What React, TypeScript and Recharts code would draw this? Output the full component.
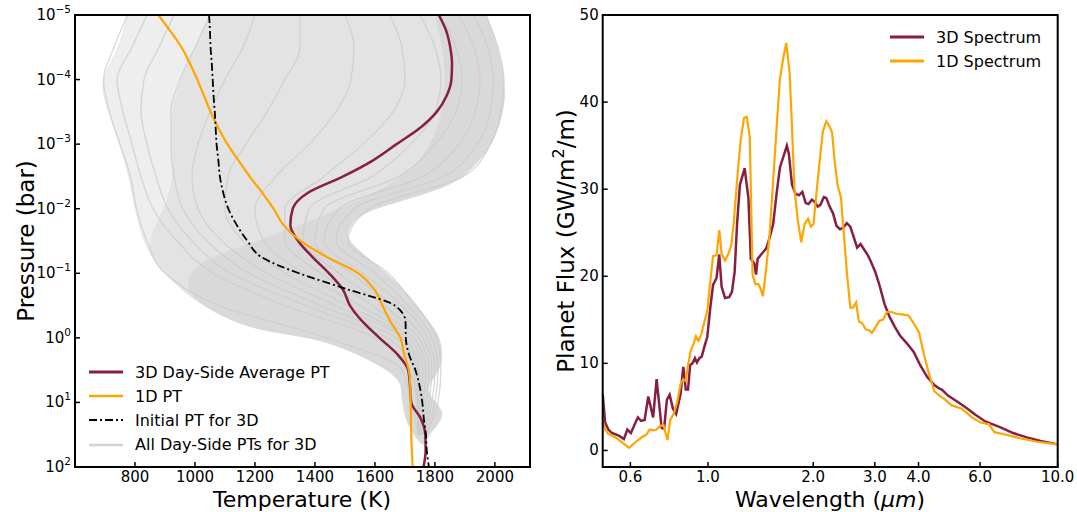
import React from "react";
import { ScatterChart, Scatter, XAxis, YAxis, Legend } from "recharts";

const FONT = "'DejaVu Sans', 'Liberation Sans', sans-serif";
const MAROON = "#861f41";
const ORANGE = "#ffa500";
const GRAY = "#d3d3d3";

// pressure levels (bar), quarter decades
const PRESSURE = [
  1e-5, 1.78e-5, 3.16e-5, 5.62e-5, 1e-4, 1.78e-4, 3.16e-4, 5.62e-4, 1e-3, 1.78e-3,
  3.16e-3, 5.62e-3, 1e-2, 1.78e-2, 3.16e-2, 5.62e-2, 0.1, 0.178, 0.316, 0.562,
  1, 1.78, 3.16, 5.62, 10, 17.8, 31.6, 56.2, 100,
];
const PT_3D_AVG = [
  1813, 1838, 1851, 1857, 1855, 1839, 1806, 1750, 1672, 1594,
  1494, 1378, 1326, 1318, 1344, 1392, 1447, 1493, 1517, 1559,
  1615, 1674, 1711, 1717, 1721, 1753, 1768, 1769, 1762,
];
const PT_1D = [
  878, 918, 955, 983, 1008, 1030, 1052, 1078, 1108, 1145,
  1182, 1224, 1262, 1295, 1352, 1440, 1545, 1598, 1625, 1652,
  1685, 1697, 1713, 1718, 1719, 1720, 1721, 1723, 1726,
];
const PT_INITIAL = [
  1047, 1050, 1052, 1056, 1059, 1062, 1066, 1069, 1072, 1078,
  1083, 1094, 1111, 1139, 1175, 1222, 1347, 1510, 1667, 1702,
  1703, 1713, 1735, 1749, 1758, 1763, 1770, 1773, 1780,
];

// day-side columns, half-decade levels
const P_COLUMNS = [1e-5, 3.16e-5, 1e-4, 3.16e-4, 1e-3, 3.16e-3, 1e-2, 3.16e-2, 0.1, 0.316, 1, 3.16, 10, 31.6];
const COL_H1 = [1970, 2010, 2030, 2020, 1985, 1895, 1580, 1510, 1645, 1735, 1805, 1820, 1810, 1770];
const COL_H2 = [1930, 1975, 1995, 1985, 1940, 1830, 1530, 1470, 1600, 1710, 1790, 1810, 1800, 1765];
const COL_H3 = [1880, 1930, 1950, 1935, 1880, 1760, 1480, 1430, 1560, 1690, 1775, 1800, 1790, 1760];
const COL_H4 = [1820, 1870, 1890, 1870, 1800, 1680, 1430, 1400, 1520, 1660, 1760, 1790, 1780, 1760];
const COL_H5 = [1750, 1800, 1820, 1800, 1720, 1590, 1380, 1360, 1480, 1630, 1745, 1780, 1770, 1755];
const COL_M1 = [1650, 1690, 1700, 1660, 1560, 1430, 1300, 1300, 1420, 1590, 1730, 1770, 1760, 1750];
const COL_M2 = [1500, 1530, 1520, 1470, 1380, 1270, 1200, 1230, 1360, 1550, 1715, 1760, 1755, 1750];
const COL_M3 = [1350, 1350, 1300, 1240, 1170, 1110, 1100, 1160, 1300, 1510, 1700, 1750, 1750, 1745];
const COL_C1 = [1200, 1160, 1100, 1050, 1010, 990, 1010, 1090, 1240, 1470, 1690, 1745, 1748, 1745];
const COL_C2 = [1050, 1000, 950, 920, 920, 930, 960, 1040, 1180, 1420, 1670, 1740, 1745, 1745];
const COL_C3 = [930, 880, 830, 820, 840, 870, 910, 990, 1120, 1370, 1640, 1730, 1742, 1745];
const COL_C4 = [840, 790, 740, 760, 790, 820, 860, 940, 1060, 1300, 1600, 1715, 1740, 1745];
const COL_C5 = [775, 730, 695, 715, 750, 785, 805, 840, 900, 1080, 1440, 1690, 1720, 1745];
const COLUMNS = [COL_H1, COL_H2, COL_H3, COL_H4, COL_H5, COL_M1, COL_M2, COL_M3, COL_C1, COL_C2, COL_C3, COL_C4, COL_C5];

// outline of the whole bundle of day-side profiles (top corners repeated to keep them sharp)
const ENV_T = [
  775, 775, 775, 749, 688, 695, 712, 749, 782, 800, 830, 880,
  960, 1060, 1180, 1300, 1440, 1600, 1690, 1688, 1700, 1740,
  1765, 1772, 1817, 1833, 1755, 1817, 1828, 1806, 1783, 1728,
  1650, 1572, 1517, 1506, 1517, 1550, 1700, 1861, 1928, 1983,
  2017, 2033, 2033, 2011, 1972, 1972, 1972,
];
const ENV_P = [
  1e-5, 1e-5, 1e-5, 3.2e-5, 1e-4, 1.7e-4, 3.2e-4, 1e-3, 3.2e-3, 1e-2, 3.6e-2, 8.2e-2,
  0.19, 0.4, 0.7, 0.87, 1.1, 2.35, 4.5, 7.6, 18.6, 38,
  49, 34, 20.7, 13, 6.4, 3.5, 1.5, 0.81, 0.59, 0.26,
  0.11, 5.6e-2, 3.4e-2, 2.4e-2, 1.9e-2, 1.16e-2, 7.3e-3, 4.3e-3, 2.3e-3, 1.15e-3,
  5e-4, 2.2e-4, 1.1e-4, 3.2e-5, 1e-5, 1e-5, 1e-5,
];
// medium-density part (everything right of the coolest upper columns)
const MID_T = [
  1050, 1050, 1000, 950, 920, 920, 930, 900, 830, 880, 960,
  1060, 1180, 1300, 1440, 1600, 1690, 1688, 1700, 1740, 1765,
  1772, 1817, 1833, 1755, 1817, 1828, 1806, 1783, 1728, 1650,
  1572, 1517, 1506, 1517, 1550, 1700, 1861, 1928, 1983, 2017,
  2033, 2033, 2011, 1972, 1972,
];
const MID_P = [
  1e-5, 1e-5, 3.16e-5, 1e-4, 3.16e-4, 1e-3, 3.16e-3, 1e-2, 3.6e-2, 8.2e-2, 0.19,
  0.4, 0.7, 0.87, 1.1, 2.35, 4.5, 7.6, 18.6, 38, 49,
  34, 20.7, 13, 6.4, 3.5, 1.5, 0.81, 0.59, 0.26, 0.11,
  5.6e-2, 3.4e-2, 2.4e-2, 1.9e-2, 1.16e-2, 7.3e-3, 4.3e-3, 2.3e-3, 1.15e-3, 5e-4,
  2.2e-4, 1.1e-4, 3.2e-5, 1e-5, 1e-5,
];
// densely overlapped part (deep layers and the hot strip)
const CORE_T = [
  1800, 1800, 1850, 1800, 1700, 1560, 1420, 1300, 1180, 1080, 990,
  960, 1060, 1180, 1300, 1440, 1600, 1690, 1688, 1700, 1740,
  1765, 1772, 1817, 1833, 1755, 1817, 1828, 1806, 1783, 1728,
  1650, 1572, 1517, 1506, 1517, 1550, 1700, 1861, 1928, 1983,
  2017, 2033, 2033, 2011, 1972, 1972,
];
const CORE_P = [
  1e-5, 1e-5, 1e-4, 1e-3, 3.2e-3, 7e-3, 1.3e-2, 2.2e-2, 3.5e-2, 5e-2, 8e-2,
  0.19, 0.4, 0.7, 0.87, 1.1, 2.35, 4.5, 7.6, 18.6, 38,
  49, 34, 20.7, 13, 6.4, 3.5, 1.5, 0.81, 0.59, 0.26,
  0.11, 5.6e-2, 3.4e-2, 2.4e-2, 1.9e-2, 1.16e-2, 7.3e-3, 4.3e-3, 2.3e-3, 1.15e-3,
  5e-4, 2.2e-4, 1.1e-4, 3.2e-5, 1e-5, 1e-5,
];

const P_TICKS = [1e-5, 1e-4, 1e-3, 1e-2, 1e-1, 1, 10, 100];
const T_TICKS = [800, 1000, 1200, 1400, 1600, 1800, 2000];

// spectra
const WL_3D = [
  0.5, 0.508, 0.519, 0.531, 0.556, 0.575, 0.588, 0.602, 0.63, 0.644,
  0.659, 0.675, 0.697, 0.713, 0.737, 0.749, 0.763, 0.777, 0.794, 0.811,
  0.835, 0.85, 0.864, 0.877, 0.889, 0.903, 0.918, 0.93, 0.945, 0.96,
  0.978, 0.995, 1.016, 1.034, 1.058, 1.077, 1.094, 1.119, 1.15, 1.171,
  1.192, 1.211, 1.234, 1.273, 1.305, 1.326, 1.356, 1.372, 1.387, 1.419,
  1.468, 1.502, 1.536, 1.571, 1.606, 1.651, 1.681, 1.704, 1.739, 1.778,
  1.819, 1.861, 1.903, 1.938, 1.982, 2.013, 2.06, 2.097, 2.145, 2.179,
  2.228, 2.279, 2.331, 2.385, 2.439, 2.495, 2.552, 2.611, 2.67, 2.731,
  2.793, 2.857, 2.922, 3.009, 3.092, 3.198, 3.308, 3.422, 3.54, 3.704,
  3.875, 4.055, 4.242, 4.438, 4.59, 4.663, 4.856, 5.08, 5.436, 5.817,
  6.225, 6.813, 7.458, 8.161, 8.933, 10.0,
];
const FLUX_3D = [
  6.5, 3.2, 2.4, 2.0, 1.7, 1.3, 2.4, 2.0, 3.8, 3.4,
  3.5, 6.2, 3.8, 8.2, 2.6, 2.5, 5.8, 6.4, 4.8, 4.2,
  6.5, 9.6, 7.0, 7.0, 9.8, 10.0, 10.6, 10.1, 10.6, 10.8,
  12.0, 13.0, 16.5, 19.0, 19.8, 22.5, 18.8, 17.5, 17.6, 18.2,
  20.5, 26.0, 30.5, 32.4, 29.0, 22.0, 21.5, 20.2, 22.0, 22.5,
  23.2, 24.5, 26.0, 29.5, 32.5, 34.0, 35.0, 34.0, 30.5, 29.5,
  29.3, 29.7, 28.4, 28.3, 28.8, 28.6, 28.0, 28.2, 29.1, 29.0,
  28.0, 27.2, 25.8, 25.4, 25.6, 26.1, 25.7, 24.5, 23.3, 23.7,
  23.1, 22.5, 21.7, 20.5, 19.0, 16.8, 15.3, 14.2, 13.2, 12.3,
  11.3, 9.7, 8.4, 7.5, 7.1, 7.0, 6.3, 5.8, 5.0, 4.1,
  3.3, 2.7, 2.0, 1.5, 1.1, 0.7,
];
const WL_1D = [
  0.5, 0.508, 0.519, 0.544, 0.569, 0.595, 0.622, 0.651, 0.666, 0.681,
  0.697, 0.713, 0.729, 0.746, 0.756, 0.766, 0.78, 0.798, 0.816, 0.835,
  0.85, 0.864, 0.877, 0.893, 0.909, 0.924, 0.939, 0.956, 0.973, 0.995,
  1.016, 1.034, 1.058, 1.077, 1.094, 1.119, 1.145, 1.166, 1.184, 1.211,
  1.239, 1.268, 1.291, 1.317, 1.341, 1.366, 1.394, 1.413, 1.435, 1.468,
  1.502, 1.536, 1.571, 1.606, 1.644, 1.673, 1.711, 1.739, 1.767, 1.806,
  1.848, 1.89, 1.933, 1.968, 2.004, 2.036, 2.083, 2.13, 2.179, 2.219,
  2.264, 2.305, 2.347, 2.401, 2.439, 2.495, 2.552, 2.599, 2.652, 2.701,
  2.762, 2.825, 2.889, 2.942, 3.009, 3.092, 3.162, 3.249, 3.345, 3.461,
  3.622, 3.746, 3.875, 4.009, 4.147, 4.291, 4.438, 4.59, 4.748, 4.967,
  5.315, 5.687, 6.017, 6.367, 6.587, 7.129, 7.801, 8.734, 10.0,
];
const FLUX_1D = [
  3.4, 2.4, 1.9, 1.5, 0.9, 0.3, 1.0, 1.6, 1.8, 2.4,
  2.3, 2.4, 2.8, 2.9, 2.0, 1.2, 3.5, 4.2, 5.5, 7.6,
  8.2, 8.0, 9.8, 11.5, 12.2, 13.1, 12.6, 13.3, 14.5, 16.0,
  19.5, 22.3, 22.4, 25.3, 22.6, 21.8, 22.6, 23.6, 26.0, 31.0,
  35.5, 38.2, 38.3, 36.0, 20.2, 19.1, 19.1, 18.6, 17.7, 21.0,
  25.0, 31.0, 37.0, 42.7, 45.2, 46.8, 43.5, 37.0, 30.0, 26.5,
  23.9, 26.0, 26.6, 25.7, 26.0, 29.0, 33.0, 36.6, 37.8, 37.3,
  36.5, 33.0, 30.5, 29.0, 25.5, 20.5, 16.4, 16.4, 17.0, 14.8,
  14.6, 13.9, 13.8, 13.5, 14.1, 14.9, 15.0, 15.9, 15.9, 15.7,
  15.6, 15.5, 14.6, 13.6, 11.0, 8.7, 6.8, 6.3, 5.9, 5.2,
  4.8, 3.8, 3.2, 3.0, 2.1, 1.8, 1.4, 1.0, 0.7,
];
const WL_TICKS = [0.6, 1, 2, 3, 4, 6, 10];
const FLUX_TICKS = [0, 10, 20, 30, 40, 50];

const PT_LEGEND = [
  { label: "3D Day-Side Average PT", color: MAROON, width: 3, dash: undefined },
  { label: "1D PT", color: ORANGE, width: 2.5, dash: undefined },
  { label: "Initial PT for 3D", color: "#000", width: 2, dash: "8 3 2 3" },
  { label: "All Day-Side PTs for 3D", color: GRAY, width: 2.5, dash: undefined },
];
const SPEC_LEGEND = [
  { label: "3D Spectrum", color: MAROON, width: 3, dash: undefined },
  { label: "1D Spectrum", color: ORANGE, width: 3, dash: undefined },
];

const profile = (temps: number[], press: number[]) => temps.map((t, i) => ({ t, p: press[i] }));
const spectrum = (wl: number[], flux: number[]) => wl.map((w, i) => ({ w, f: flux[i] }));

const NoDot = () => <g />;

const minus = (s: string) => s.replace("-", "\u2212");

function PowerTick({ x, y, payload }: any) {
  const exp = Math.round(Math.log10(payload.value));
  return (
    <g>
      <line x1={x} x2={x + 5} y1={y} y2={y} stroke="#000" strokeWidth={1.5} />
      <text x={x - 4} y={y + 5} textAnchor="end" fontFamily={FONT} fontSize={15} fill="#000">
        10
        <tspan dy={-7} fontSize={10.5}>{minus(String(exp))}</tspan>
      </text>
    </g>
  );
}

function LeftTick({ x, y, payload }: any) {
  return (
    <g>
      <line x1={x} x2={x + 5} y1={y} y2={y} stroke="#000" strokeWidth={1.5} />
      <text x={x - 4} y={y + 5} textAnchor="end" fontFamily={FONT} fontSize={15} fill="#000">
        {payload.value}
      </text>
    </g>
  );
}

function BottomTick({ x, y, payload, fixed }: any) {
  const v = fixed ? Number(payload.value).toFixed(1) : String(payload.value);
  return (
    <g>
      <line x1={x} x2={x} y1={y} y2={y - 5} stroke="#000" strokeWidth={1.5} />
      <text x={x} y={y + 15} textAnchor="middle" fontFamily={FONT} fontSize={15} fill="#000">
        {v}
      </text>
    </g>
  );
}

function LegendBlock({ items }: { items: typeof PT_LEGEND }) {
  return (
    <div style={{ fontFamily: FONT, fontSize: 16, color: "#000" }}>
      {items.map((it) => (
        <div key={it.label} style={{ display: "flex", alignItems: "center", height: 24.2, whiteSpace: "nowrap" }}>
          <svg width={34} height={10} style={{ marginRight: 12 }}>
            <line x1={0} x2={34} y1={5} y2={5} stroke={it.color} strokeWidth={it.width} strokeDasharray={it.dash} />
          </svg>
          <span>{it.label}</span>
        </div>
      ))}
    </div>
  );
}

function PTChart() {
  return (
    <ScatterChart width={540} height={512} margin={{ top: 15, right: 10, bottom: 0, left: 0 }}>
      <XAxis
        type="number"
        dataKey="t"
        domain={[600, 2117]}
        ticks={T_TICKS}
        interval={0}
        allowDataOverflow
        height={45}
        axisLine={false}
        tickLine={false}
        tickSize={0}
        tickMargin={0}
        tick={<BottomTick />}
      />
      <YAxis
        type="number"
        dataKey="p"
        scale="log"
        domain={[1e-5, 100]}
        reversed
        ticks={P_TICKS}
        interval={0}
        allowDataOverflow
        width={75}
        axisLine={false}
        tickLine={false}
        tickSize={0}
        tickMargin={0}
        tick={<PowerTick />}
      />
      <Scatter
        data={profile(ENV_T, ENV_P)}
        shape={NoDot}
        line={{ fill: "#eeeeee", stroke: "#e6e6e6", strokeWidth: 1 }}
        lineJointType="basisClosed"
        isAnimationActive={false}
      />
      <Scatter
        data={profile(MID_T, MID_P)}
        shape={NoDot}
        line={{ fill: "#e3e3e3", stroke: "none" }}
        lineJointType="basisClosed"
        isAnimationActive={false}
      />
      <Scatter
        data={profile(CORE_T, CORE_P)}
        shape={NoDot}
        line={{ fill: "#d9d9d9", stroke: "none" }}
        lineJointType="basisClosed"
        isAnimationActive={false}
      />
      {COLUMNS.map((col, i) => (
        <Scatter
          key={i}
          data={profile(col, P_COLUMNS)}
          shape={NoDot}
          line={{ stroke: "#cbcbcb", strokeWidth: 1.3, strokeOpacity: 0.75 }}
          lineJointType="monotoneY"
          isAnimationActive={false}
        />
      ))}
      <Scatter
        data={profile(PT_3D_AVG, PRESSURE)}
        shape={NoDot}
        line={{ stroke: MAROON, strokeWidth: 2.5 }}
        lineJointType="monotoneY"
        isAnimationActive={false}
      />
      <Scatter
        data={profile(PT_1D, PRESSURE)}
        shape={NoDot}
        line={{ stroke: ORANGE, strokeWidth: 2.2 }}
        lineJointType="monotoneY"
        isAnimationActive={false}
      />
      <Scatter
        data={profile(PT_INITIAL, PRESSURE)}
        shape={NoDot}
        line={{ stroke: "#000", strokeWidth: 1.8, strokeDasharray: "8 3 2 3" }}
        lineJointType="monotoneY"
        isAnimationActive={false}
      />
      <Legend
        layout="horizontal"
        verticalAlign="middle"
        align="center"
        wrapperStyle={{ left: 89, top: 360, width: "auto", height: "auto" }}
        content={() => <LegendBlock items={PT_LEGEND} />}
      />
    </ScatterChart>
  );
}

function SpectrumChart() {
  return (
    <ScatterChart width={537} height={512} margin={{ top: 15, right: 19.3, bottom: 0, left: 0 }}>
      <XAxis
        type="number"
        dataKey="w"
        scale="log"
        domain={[0.5, 10]}
        ticks={WL_TICKS}
        interval={0}
        allowDataOverflow
        height={45}
        axisLine={false}
        tickLine={false}
        tickSize={0}
        tickMargin={0}
        tick={<BottomTick fixed />}
      />
      <YAxis
        type="number"
        dataKey="f"
        domain={[-1.9, 50]}
        ticks={FLUX_TICKS}
        interval={0}
        allowDataOverflow
        width={62.7}
        axisLine={false}
        tickLine={false}
        tickSize={0}
        tickMargin={0}
        tick={<LeftTick />}
      />
      <Scatter
        data={spectrum(WL_3D, FLUX_3D)}
        shape={NoDot}
        line={{ stroke: MAROON, strokeWidth: 2.5 }}
        isAnimationActive={false}
      />
      <Scatter
        data={spectrum(WL_1D, FLUX_1D)}
        shape={NoDot}
        line={{ stroke: ORANGE, strokeWidth: 2.2 }}
        isAnimationActive={false}
      />
      <Legend
        layout="horizontal"
        verticalAlign="middle"
        align="center"
        wrapperStyle={{ left: 350, top: 25, width: "auto", height: "auto" }}
        content={() => <LegendBlock items={SPEC_LEGEND} />}
      />
    </ScatterChart>
  );
}

export default function App() {
  return (
    <div style={{ position: "relative", width: 1077, height: 512, background: "#fff", overflow: "hidden" }}>
      <style>{"body{margin:0}"}</style>
      <div style={{ position: "absolute", left: 0, top: 0 }}>
        <PTChart />
      </div>
      <div style={{ position: "absolute", left: 540, top: 0 }}>
        <SpectrumChart />
      </div>
      <svg width={1077} height={512} style={{ position: "absolute", left: 0, top: 0, pointerEvents: "none" }}>
        <rect x={75} y={15} width={455} height={452} fill="none" stroke="#000" strokeWidth={2} />
        <rect x={602.7} y={15} width={455} height={452} fill="none" stroke="#000" strokeWidth={2} />
        <g fontFamily={FONT} fill="#000">
          <text x={26} y={241} fontSize={23} textAnchor="middle" dominantBaseline="central" transform="rotate(-90 26 241)">
            Pressure (bar)
          </text>
          <text x={302} y={499} fontSize={22} textAnchor="middle" dominantBaseline="central">
            Temperature (K)
          </text>
          <text x={566} y={241} fontSize={23} textAnchor="middle" dominantBaseline="central" transform="rotate(-90 566 241)">
            Planet Flux (GW/m<tspan dy={-8} fontSize={16}>2</tspan>
            <tspan dy={8}>/m)</tspan>
          </text>
          <text x={830} y={499} fontSize={22} textAnchor="middle" dominantBaseline="central">
            Wavelength (<tspan fontStyle="italic">μm</tspan>)
          </text>
        </g>
      </svg>
    </div>
  );
}
